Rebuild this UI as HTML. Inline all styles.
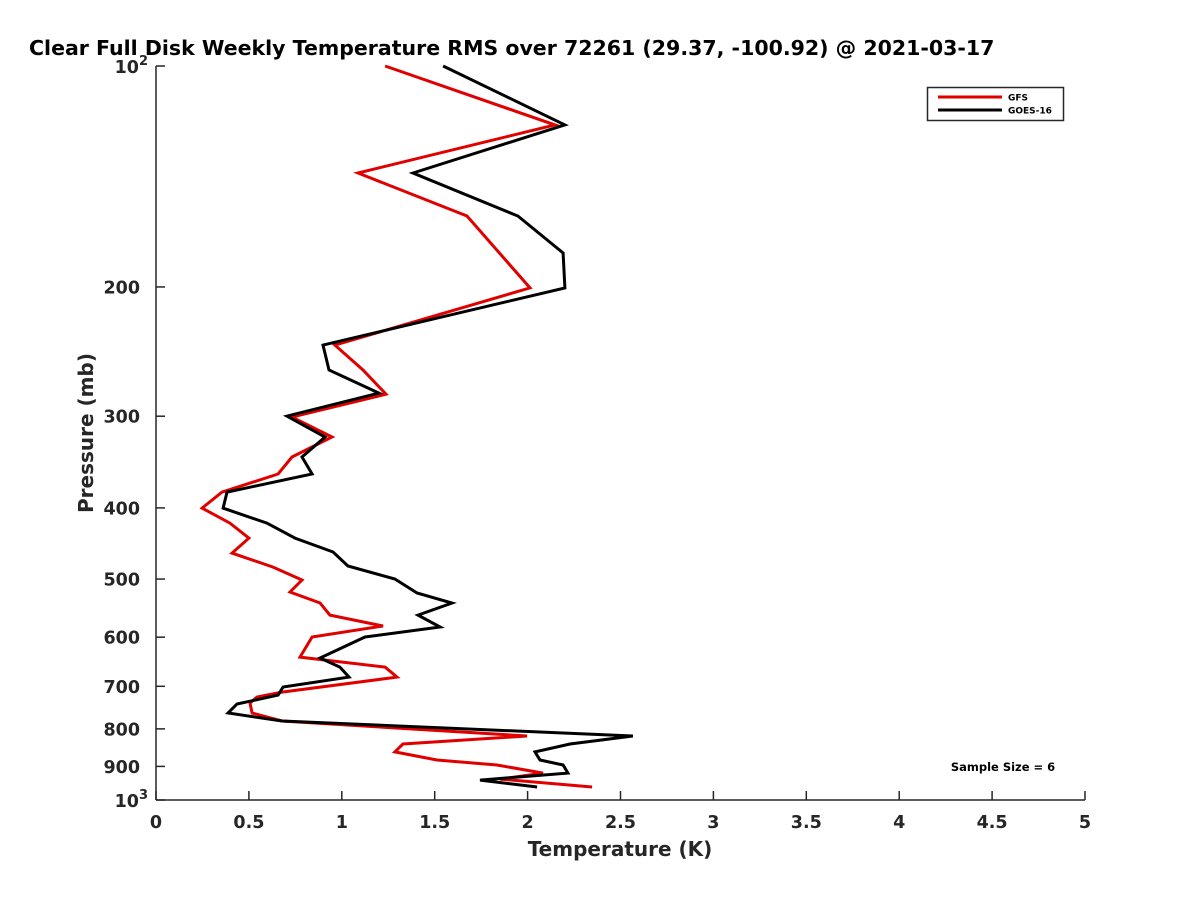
<!DOCTYPE html>
<html><head><meta charset="utf-8"><style>
html,body{margin:0;padding:0;background:#fff;overflow:hidden;}
svg{display:block;font-family:"DejaVu Sans","Liberation Sans",sans-serif;}
</style></head><body>
<svg id="chart" width="1200" height="900" viewBox="0 0 1200 900">
<text x="29" y="55" font-size="20.5" font-weight="bold" fill="#000">Clear Full Disk Weekly Temperature RMS over 72261 (29.37, -100.92) @ 2021-03-17</text>
<g id="axes"></g>
<g id="series"></g>
<text x="620" y="856" font-size="20" font-weight="bold" fill="#262626" text-anchor="middle">Temperature (K)</text>
<text transform="translate(93,433) rotate(-90)" font-size="20" font-weight="bold" fill="#262626" text-anchor="middle">Pressure (mb)</text>
<g>
<rect x="927.5" y="87.5" width="136" height="33" fill="#fff" stroke="#262626" stroke-width="1.5"/>
<line x1="938" y1="97" x2="1002" y2="97" stroke="#e00000" stroke-width="3"/>
<text x="1008" y="100.5" font-size="9" font-weight="bold" fill="#000">GFS</text>
<line x1="938" y1="110" x2="1002" y2="110" stroke="#000" stroke-width="3"/>
<text x="1008" y="113.5" font-size="9" font-weight="bold" fill="#000">GOES-16</text>
</g>
<text x="1003" y="771" font-size="11.5" font-weight="bold" fill="#000" text-anchor="middle">Sample Size = 6</text>
</svg>
<script>
const xTicks=[0,0.5,1,1.5,2,2.5,3,3.5,4,4.5,5];
const xTickLabels=["0","0.5","1","1.5","2","2.5","3","3.5","4","4.5","5"];
const yTicks=[100,200,300,400,500,600,700,800,900,1000];
const yTickLabels=["","200","300","400","500","600","700","800","900",""];
const gfsTemp=[1.233,2.147,1.087,1.674,2.013,0.963,1.114,1.238,0.732,0.947,0.732,0.657,0.355,0.248,0.398,0.5,0.409,0.63,0.786,0.721,0.883,0.936,1.222,0.84,0.775,1.233,1.297,0.678,0.544,0.506,0.517,0.678,1.997,1.329,1.286,1.512,1.835,2.083,1.851,2.347];
const gfsPres=[100,120.3,139.9,160.1,200.6,240,259.5,280,300.8,320.2,341,359.6,380.6,400.2,419.5,439.7,460.9,481.6,501.5,520.7,539,559.8,579.3,599.7,638.7,659,680,712.8,724,737.7,761.2,780.5,818,838.8,860,882,896,919,936.4,960];
const goesTemp=[1.545,2.201,1.383,1.948,2.191,2.201,0.899,0.931,1.2,0.705,0.91,0.786,0.84,0.382,0.361,0.597,0.748,0.953,1.033,1.286,1.405,1.593,1.41,1.529,1.125,0.883,0.99,1.039,0.684,0.657,0.436,0.388,0.678,2.567,2.228,2.04,2.067,2.191,2.217,1.744,2.051];
const goesPres=[100,120.3,139.9,160.1,179.8,200.6,240,259.5,279,299.9,320.2,341,359.6,380.6,400.2,419.5,439.7,459.4,480,500,522.4,539,559.8,581.2,599.7,640.6,659,680,701.5,719.5,740,761.2,780.5,818,838.8,860,882,896,919,939.4,960];

const X0=156,X1=1085,Y0=66,Y1=800;
function xs(v){return X0+(v-0)/(5-0)*(X1-X0);}
function ys(p){return Y0+(Math.log10(p)-2)*(Y1-Y0);}
const NS="http://www.w3.org/2000/svg";
const axes=document.getElementById('axes');
const series=document.getElementById('series');
function mk(tag,attrs,parent){const e=document.createElementNS(NS,tag);for(const k in attrs)e.setAttribute(k,attrs[k]);parent.appendChild(e);return e;}

let a=mk('line',{x1:X0,y1:Y0,x2:X0,y2:Y1,stroke:'#262626','stroke-width':1.5},axes);


a=mk('line',{x1:X0,y1:Y1,x2:X1,y2:Y1,stroke:'#262626','stroke-width':1.5},axes);



xTicks.forEach((v,i)=>{
  const t=mk('line',{x1:xs(v),y1:Y1,x2:xs(v),y2:Y1-9,stroke:'#262626','stroke-width':1.5},axes);
  
  
  const l=mk('text',{x:xs(v),y:Y1+28,'font-size':17.5,'font-weight':'bold',fill:'#262626','text-anchor':'middle'},axes);
  l.textContent=xTickLabels[i];
  
  
});
yTicks.forEach((p,i)=>{
  const t=mk('line',{x1:X0,y1:ys(p),x2:X0+9,y2:ys(p),stroke:'#262626','stroke-width':1.5},axes);
  
  
  if(yTickLabels[i]){
    const l=mk('text',{x:X0-16,y:ys(p)+6.5,'font-size':17.5,'font-weight':'bold',fill:'#262626','text-anchor':'end'},axes);
    l.textContent=yTickLabels[i];
    
    
  }
});
[[100,'2'],[1000,'3']].forEach(([p,e])=>{
  const l=mk('text',{x:X0-8,y:ys(p)+7,'font-size':17.5,'font-weight':'bold',fill:'#262626','text-anchor':'end'},axes);
  
  
  const b=mk('tspan',{},l);b.textContent='10';
  const s=mk('tspan',{dy:-8,'font-size':13},l);s.textContent=e;
});

function drawLine(T,P,color,name){
  const d=T.map((t,i)=>(i?'L':'M')+xs(t).toFixed(1)+','+ys(P[i]).toFixed(1)).join(' ');
  const p=mk('path',{d:d,fill:'none',stroke:color,'stroke-width':3,'stroke-linejoin':'miter'},series);
  
  
}
drawLine(gfsTemp,gfsPres,'#e00000','gfs-line');
drawLine(goesTemp,goesPres,'#000000','goes16-line');
</script>
</body></html>
